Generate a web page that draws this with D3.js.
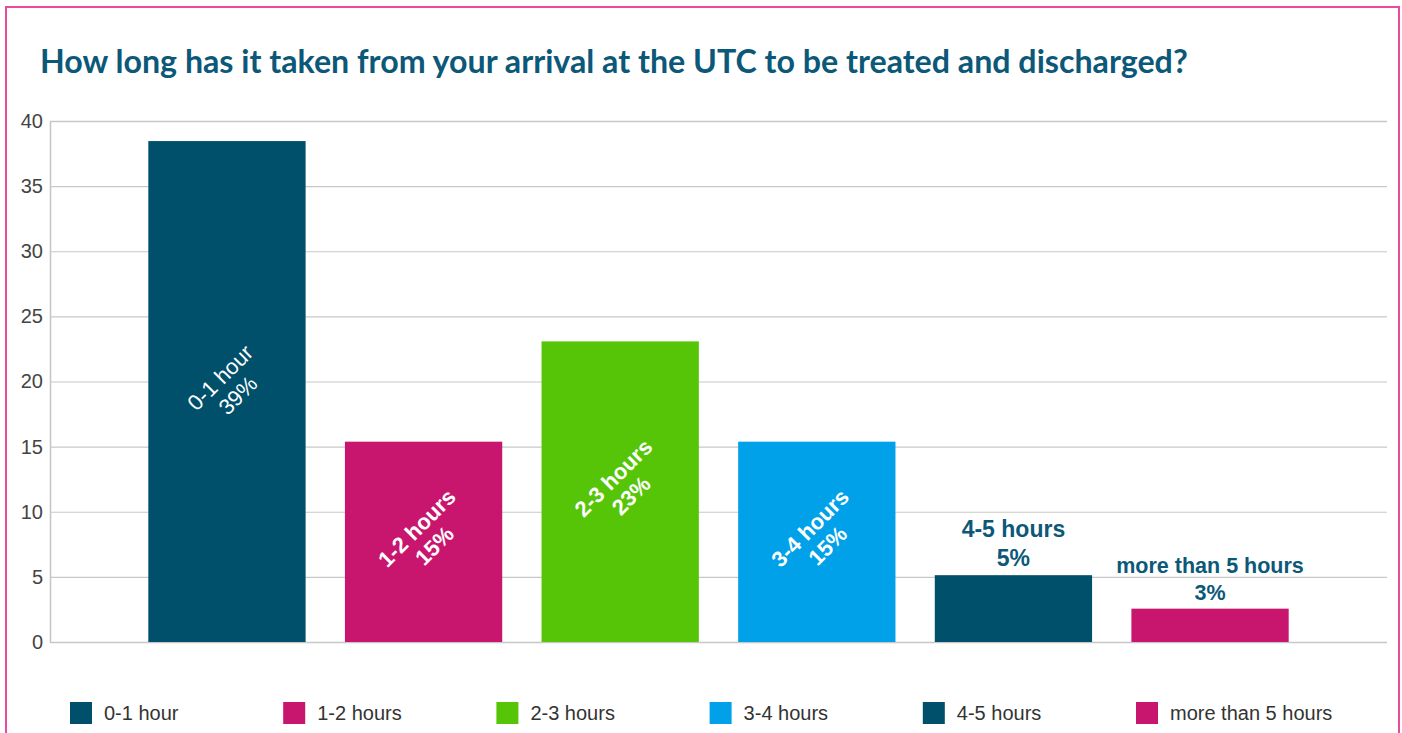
<!DOCTYPE html>
<html>
<head>
<meta charset="utf-8">
<script src="https://cdn.jsdelivr.net/npm/d3@7"></script>
<style>
  body { margin: 0; background: #fff; }
  svg { display: block; }
</style>
</head>
<body>
<svg width="1402" height="733"></svg>
<script>
var categories = ["0-1 hour", "1-2 hours", "2-3 hours", "3-4 hours", "4-5 hours", "more than 5 hours"];
var values = [38.46, 15.38, 23.08, 15.38, 5.13, 2.56];
var percentLabels = ["39%", "15%", "23%", "15%", "5%", "3%"];
var yTicks = [0, 5, 10, 15, 20, 25, 30, 35, 40];
var title = "How long has it taken from your arrival at the UTC to be treated and discharged?";

var colors = ["#00506b", "#c8166e", "#56c507", "#00a1e9", "#00506b", "#c8166e"];

function main() {
    var svg = d3.select("svg"),
        width = +svg.attr("width"),
        height = +svg.attr("height");

    var plot = {left: 50, right: 1387, top: 121, bottom: 642};

    // frame
    svg.append("rect")
       .attr("x", 6).attr("y", 7)
       .attr("width", 1393).attr("height", 760)
       .attr("fill", "none")
       .attr("stroke", "#ea4b9c")
       .attr("stroke-width", 2);

    // title, sized to fit the same width as the original
    var t = svg.append("text")
       .attr("x", 40).attr("y", 73)
       .attr("font-family", "Lato")
       .attr("font-weight", "bold")
       .attr("font-size", 28)
       .attr("fill", "#0c5878")
       .text(title);
    var len = t.node().getComputedTextLength();
    t.attr("font-size", 28 * 1148 / len);

    var x = d3.scaleBand()
              .domain(categories)
              .range([plot.left, plot.right])
              .paddingInner(0.2)
              .paddingOuter(0.5);

    var y = d3.scaleLinear()
              .domain([0, 40])
              .range([plot.bottom, plot.top]);

    // grid
    var yAxis = d3.axisLeft(y)
                  .tickValues(yTicks)
                  .tickSize(-(plot.right - plot.left))
                  .tickPadding(7)
                  .tickFormat(d3.format("d"));
    var ga = svg.append("g")
       .attr("transform", "translate(" + plot.left + ",0)")
       .call(yAxis);
    ga.select(".domain").attr("stroke", "#c4c4c4").attr("stroke-width", 1.5);
    ga.selectAll(".tick line").attr("stroke", "#c8c8c8").attr("stroke-width", 1.2);
    ga.selectAll(".tick text")
      .attr("font-family", "Liberation Sans, Arial, sans-serif")
      .attr("font-size", 20)
      .attr("fill", "#444");

    // bars
    svg.append("g").selectAll("rect")
       .data(values)
       .enter().append("rect")
       .attr("x", function(d, i) { return x(categories[i]); })
       .attr("y", function(d) { return y(d); })
       .attr("width", x.bandwidth())
       .attr("height", function(d) { return y(0) - y(d); })
       .attr("fill", function(d, i) { return colors[i]; });

    // labels: rotated inside tall bars, horizontal above short bars
    var labels = svg.append("g");
    values.forEach(function(d, i) {
        var cx = x(categories[i]) + x.bandwidth() / 2;
        var barH = y(0) - y(d);
        if (barH > 150) {
            var cy = (y(d) + y(0)) / 2 - 7;
            var lt = labels.append("text")
               .attr("transform", "translate(" + cx + "," + cy + ") rotate(-45)")
               .attr("text-anchor", "middle")
               .attr("font-family", "Liberation Sans, Arial, sans-serif")
               .attr("font-size", 22)
               .attr("font-weight", i === 0 ? "normal" : "bold")
               .attr("fill", "#fff");
            lt.append("tspan").attr("x", 0).attr("y", -2).text(categories[i]);
            lt.append("tspan").attr("x", 0).attr("y", 23).text(percentLabels[i]);
        } else {
            var fs = i === 4 ? 23 : 21.5;
            var gap = i === 4 ? 29 : 27;
            var lt2 = labels.append("text")
               .attr("text-anchor", "middle")
               .attr("font-family", "Liberation Sans, Arial, sans-serif")
               .attr("font-size", fs)
               .attr("font-weight", "bold")
               .attr("fill", "#0c5878");
            lt2.append("tspan").attr("x", cx).attr("y", y(d) - 9 - gap).text(categories[i]);
            lt2.append("tspan").attr("x", cx).attr("y", y(d) - 9).text(percentLabels[i]);
        }
    });

    // legend
    var legendX = d3.scalePoint()
                    .domain(categories)
                    .range([70, 1136]);
    var lg = svg.append("g").selectAll("g")
       .data(categories)
       .enter().append("g")
       .attr("transform", function(d) { return "translate(" + legendX(d) + ",702)"; });
    lg.append("rect")
      .attr("width", 22).attr("height", 22)
      .attr("fill", function(d, i) { return colors[i]; });
    lg.append("text")
      .attr("x", 34).attr("y", 18)
      .attr("font-family", "Liberation Sans, Arial, sans-serif")
      .attr("font-size", 20)
      .attr("fill", "#333")
      .text(function(d) { return d; });
}
main();
</script>
</body>
</html>
